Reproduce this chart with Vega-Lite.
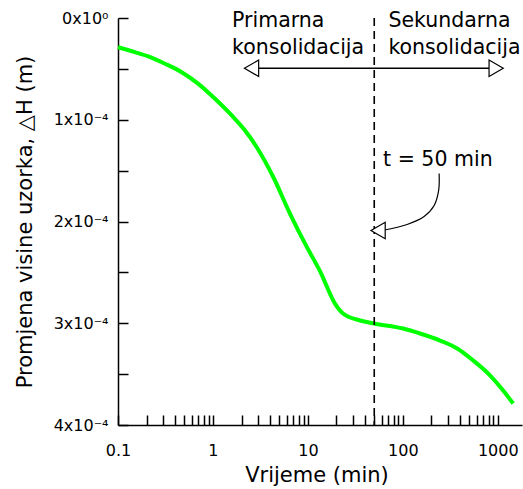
{
  "$schema": "https://vega.github.io/schema/vega-lite/v6.json",
  "autosize": "none",
  "padding": {"left": 118, "top": 18, "right": 1, "bottom": 64},
  "width": 404,
  "height": 407,
  "background": "white",
  "config": {"view": {"stroke": null}, "font": "DejaVu Sans"},
  "datasets": {
    "curve": [
      {"x": 0.1, "y": 2.87e-5},
      {"x": 0.151, "y": 3.36e-5},
      {"x": 0.2086, "y": 3.78e-5},
      {"x": 0.313, "y": 4.50e-5},
      {"x": 0.469, "y": 5.33e-5},
      {"x": 0.702, "y": 6.47e-5},
      {"x": 1.052, "y": 7.94e-5},
      {"x": 1.578, "y": 9.58e-5},
      {"x": 2.179, "y": 1.106e-4},
      {"x": 2.894, "y": 1.270e-4},
      {"x": 4.33, "y": 1.565e-4},
      {"x": 6.49, "y": 1.924e-4},
      {"x": 9.74, "y": 2.250e-4},
      {"x": 13.45, "y": 2.490e-4},
      {"x": 19.35, "y": 2.809e-4},
      {"x": 23.66, "y": 2.907e-4},
      {"x": 35.5, "y": 2.973e-4},
      {"x": 49.9, "y": 3.002e-4},
      {"x": 100.7, "y": 3.052e-4},
      {"x": 152, "y": 3.101e-4},
      {"x": 247, "y": 3.170e-4},
      {"x": 374, "y": 3.248e-4},
      {"x": 551, "y": 3.366e-4},
      {"x": 832, "y": 3.514e-4},
      {"x": 1140, "y": 3.661e-4},
      {"x": 1453, "y": 3.789e-4}
    ],
    "divider": [{"x": 50, "y": 0, "y2": 4e-4}],
    "hline": [{"x": 2.55, "y": 4.94e-5}, {"x": 962, "y": 4.94e-5}],
    "heads": [
      {"x": 2.55, "y": 4.94e-5, "shape": "triangle-left"},
      {"x": 962, "y": 4.94e-5, "shape": "triangle-right"},
      {"x": 54.9, "y": 2.088e-4, "shape": "triangle-left"}
    ],
    "bend": [
      {"o": 1, "x": 241.3, "y": 1.528e-4},
      {"o": 2, "x": 238.4, "y": 1.695e-4},
      {"o": 3, "x": 213.8, "y": 1.843e-4},
      {"o": 4, "x": 167.6, "y": 1.951e-4},
      {"o": 5, "x": 111, "y": 2.029e-4},
      {"o": 6, "x": 62, "y": 2.086e-4}
    ],
    "labels": [
      {"x": 1.589, "y": 9.3e-6, "t": "Primarna"},
      {"x": 1.589, "y": 3.49e-5, "t": "konsolidacija"},
      {"x": 70.5, "y": 9.3e-6, "t": "Sekundarna"},
      {"x": 70.5, "y": 3.49e-5, "t": "konsolidacija"},
      {"x": 62.0, "y": 1.45e-4, "t": "t = 50 min"}
    ]
  },
  "encoding": {
    "x": {
      "field": "x", "type": "quantitative",
      "scale": {"type": "log", "domain": [0.1, 1800], "nice": false},
      "axis": {
        "values": [0.1,0.2,0.3,0.4,0.5,0.6,0.7,0.8,0.9,1,2,3,4,5,6,7,8,9,10,20,30,40,50,60,70,80,90,100,200,300,400,500,600,700,800,900,1000],
        "labelExpr": "indexof([0.1,1,10,100,1000], datum.value) >= 0 ? format(datum.value, '~g') : ''",
        "labelOverlap": false,
        "labelFlush": false,
        "grid": false,
        "domainColor": "black", "domainWidth": 1.5,
        "tickColor": "black", "tickWidth": 1.5, "tickSize": -10,
        "labelPadding": 40, "labelBaseline": "alphabetic",
        "labelFont": "DejaVu Sans", "labelFontSize": 16, "labelColor": "black",
        "title": "Vrijeme (min)",
        "titleFont": "DejaVu Sans", "titleFontSize": 21, "titleFontWeight": "normal", "titleColor": "black",
        "titleX": 198.5, "titleY": 56, "titleBaseline": "alphabetic", "titleAlign": "center"
      }
    },
    "y": {
      "field": "y", "type": "quantitative",
      "scale": {"domain": [0, 0.0004], "reverse": true, "nice": false, "zero": false},
      "axis": {
        "values": [0, 0.00005, 0.0001, 0.00015, 0.0002, 0.00025, 0.0003, 0.00035, 0.0004],
        "labelExpr": "datum.value == 0 ? '0x10⁰' : (abs(datum.value*1e4 - round(datum.value*1e4)) < 1e-6 ? round(datum.value*1e4) + 'x10⁻⁴' : '')",
        "labelOverlap": false,
        "labelFlush": false,
        "grid": false,
        "domainColor": "black", "domainWidth": 1.5,
        "tickColor": "black", "tickWidth": 1.5, "tickSize": -10,
        "labelPadding": 20, "labelAlign": "right", "labelBaseline": "middle",
        "labelFont": "DejaVu Sans", "labelFontSize": 16, "labelColor": "black",
        "title": "Promjena visine uzorka, △H (m)",
        "titleFont": "DejaVu Sans", "titleFontSize": 21, "titleFontWeight": "normal", "titleColor": "black",
        "titleX": -87, "titleY": 203.5, "titleAngle": -90, "titleAlign": "center", "titleBaseline": "alphabetic"
      }
    }
  },
  "layer": [
    {
      "data": {"name": "curve"},
      "mark": {"type": "line", "color": "#00ff00", "strokeWidth": 4, "interpolate": "monotone"}
    },
    {
      "data": {"name": "divider"},
      "mark": {"type": "rule", "color": "black", "strokeWidth": 1.6, "strokeDash": [8, 5]},
      "encoding": {"y2": {"field": "y2"}}
    },
    {
      "data": {"name": "hline"},
      "mark": {"type": "line", "color": "black", "strokeWidth": 1.3}
    },
    {
      "data": {"name": "bend"},
      "mark": {"type": "line", "color": "black", "strokeWidth": 1.2, "interpolate": "catmull-rom"},
      "encoding": {"order": {"field": "o", "type": "quantitative"}}
    },
    {
      "data": {"name": "heads"},
      "mark": {"type": "point", "filled": true, "fill": "white", "stroke": "black", "strokeWidth": 1.2, "opacity": 1, "size": 270},
      "encoding": {"shape": {"field": "shape", "type": "nominal", "scale": null}}
    },
    {
      "data": {"name": "labels"},
      "mark": {"type": "text", "align": "left", "baseline": "alphabetic", "font": "DejaVu Sans", "fontSize": 20.5, "color": "black"},
      "encoding": {"text": {"field": "t"}}
    }
  ]
}
